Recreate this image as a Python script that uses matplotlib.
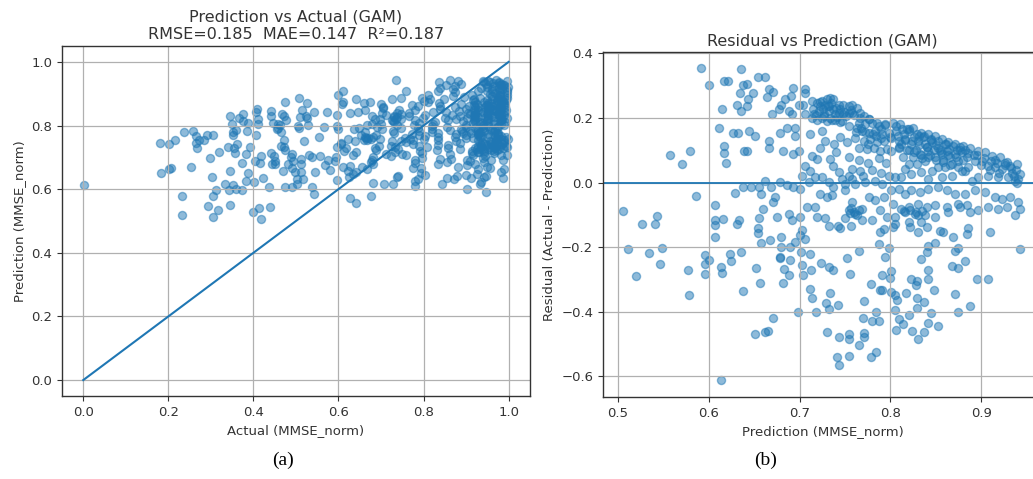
import numpy as np
import matplotlib
matplotlib.use("Agg")
import matplotlib.pyplot as plt

# GAM predictions (MMSE_norm) and residuals (actual - prediction)
prediction = [
    # sparse, upper left
    0.592, 0.600, 0.635, 0.617, 0.621, 0.638, 0.634, 0.631, 0.635, 0.615,
    0.611, 0.627, 0.632, 0.617, 0.617, 0.619, 0.639, 0.557, 0.579, 0.571,
    # sparse, lower left
    0.586, 0.629, 0.638, 0.607, 0.506, 0.543, 0.541, 0.527, 0.607, 0.616,
    0.633, 0.607, 0.511, 0.534, 0.549, 0.546, 0.520, 0.577, 0.578, 0.596,
    0.600, 0.596, 0.596, 0.614, 0.615, 0.623, 0.625, 0.636, 0.638, 0.614,
    0.631, 0.607,
    # 0.64-0.71, upper
    0.654, 0.662, 0.642, 0.666, 0.671, 0.664, 0.649, 0.643, 0.642, 0.693,
    0.706, 0.706, 0.691, 0.684, 0.680, 0.677, 0.670, 0.688, 0.692, 0.699,
    0.704, 0.706,
    # dense band 0.71-0.78
    0.714, 0.719, 0.725, 0.730, 0.734, 0.737, 0.743, 0.748, 0.754, 0.758,
    0.763, 0.715, 0.721, 0.726, 0.732, 0.737, 0.743, 0.748, 0.754, 0.714,
    0.719, 0.725, 0.730, 0.734, 0.739, 0.747, 0.728, 0.732, 0.739, 0.722,
    0.727, 0.745, 0.751, 0.716, 0.735, 0.741, 0.757, 0.760, 0.767, 0.771,
    0.776, 0.722, 0.731, 0.740, 0.749, 0.758, 0.767, 0.776, 0.785, 0.794,
    0.718, 0.727, 0.736, 0.745, 0.754, 0.763, 0.772, 0.781, 0.790,
    # dense band 0.76-0.80
    0.765, 0.772, 0.780, 0.787, 0.794, 0.769, 0.776, 0.783, 0.791, 0.798,
    0.761, 0.771, 0.778, 0.785, 0.793, 0.765, 0.774, 0.782, 0.789, 0.796,
    0.768, 0.790, 0.775, 0.800, 0.784, 0.762,
    # middle, near zero
    0.728, 0.723, 0.714, 0.719, 0.734, 0.737, 0.706, 0.712, 0.703, 0.717,
    0.725, 0.710, 0.732, 0.747, 0.754, 0.758, 0.767, 0.743, 0.750, 0.761,
    0.772, 0.783, 0.791, 0.798, 0.644, 0.651, 0.642, 0.666, 0.666, 0.682,
    0.693, 0.699, 0.695, 0.695, 0.686, 0.679, 0.712, 0.725, 0.738, 0.745,
    0.752, 0.740, 0.755, 0.765, 0.775, 0.780, 0.790, 0.758, 0.770, 0.795,
    0.787,
    # 0.64-0.80, just below zero
    0.647, 0.655, 0.662, 0.669, 0.679, 0.686, 0.693, 0.701, 0.657, 0.673,
    0.671, 0.660, 0.655, 0.675, 0.688, 0.692, 0.701, 0.708, 0.717, 0.723,
    0.730, 0.736, 0.737, 0.750, 0.758, 0.754, 0.761, 0.769, 0.776, 0.783,
    0.789, 0.793, 0.796, 0.780, 0.769, 0.750, 0.728, 0.719, 0.757, 0.760,
    0.763, 0.756, 0.765,
    # upper edge 0.80-0.95
    0.803, 0.811, 0.818, 0.825, 0.834, 0.842, 0.849, 0.857, 0.864, 0.871,
    0.880, 0.888, 0.897, 0.904, 0.912, 0.921, 0.928, 0.939, 0.943, 0.941,
    # dense core 0.80-0.94
    0.801, 0.809, 0.816, 0.801, 0.809, 0.814, 0.823, 0.831, 0.838, 0.846,
    0.853, 0.842, 0.833, 0.825, 0.820, 0.829, 0.838, 0.849, 0.857, 0.862,
    0.871, 0.879, 0.884, 0.875, 0.868, 0.860, 0.853, 0.846, 0.834, 0.823,
    0.812, 0.805, 0.816, 0.842, 0.857, 0.868, 0.879, 0.886, 0.893, 0.901,
    0.908, 0.915, 0.923, 0.930, 0.937, 0.919, 0.908, 0.897, 0.890, 0.836,
    0.840, 0.845, 0.850, 0.855, 0.860, 0.865, 0.828, 0.832, 0.858, 0.866,
    0.873, 0.877, 0.882, 0.886, 0.892, 0.835, 0.844, 0.820, 0.812, 0.806,
    0.815, 0.826, 0.820, 0.938, 0.934, 0.940, 0.932, 0.926, 0.915,
    0.806, 0.813, 0.821, 0.829, 0.837, 0.845, 0.853, 0.861, 0.869, 0.877,
    0.808, 0.816, 0.824, 0.832, 0.840, 0.848, 0.856, 0.864, 0.872, 0.880,
    0.810, 0.818, 0.826, 0.834, 0.842, 0.850, 0.858, 0.866, 0.874, 0.882,
    0.895, 0.903, 0.911, 0.918, 0.926, 0.933, 0.900, 0.910, 0.920, 0.936,
    # 0.80-0.95, below zero
    0.801, 0.809, 0.816, 0.823, 0.833, 0.842, 0.853, 0.862, 0.871, 0.882,
    0.893, 0.904, 0.915, 0.923, 0.932, 0.941, 0.803, 0.812, 0.821, 0.830,
    0.840, 0.849, 0.862, 0.875, 0.884, 0.897, 0.908, 0.919, 0.928, 0.937,
    0.943, 0.805, 0.816, 0.827, 0.838, 0.849, 0.864, 0.877, 0.888, 0.805,
    0.820, 0.834, 0.815, 0.822, 0.828, 0.835, 0.831,
    # 0.65-0.80, lower
    0.654, 0.654, 0.668, 0.658, 0.680, 0.680, 0.679, 0.678, 0.690, 0.695,
    0.701, 0.703, 0.706, 0.702, 0.712, 0.690, 0.652, 0.656, 0.683, 0.688,
    0.682, 0.703, 0.704, 0.713, 0.724, 0.732, 0.737, 0.711, 0.714, 0.734,
    0.729, 0.732, 0.742, 0.718, 0.698, 0.752, 0.765, 0.756, 0.779, 0.791,
    0.771, 0.671, 0.662, 0.665, 0.651, 0.730, 0.744, 0.754, 0.754, 0.771,
    0.771, 0.766, 0.770, 0.784, 0.780, 0.787, 0.741, 0.744, 0.754, 0.779,
    0.784, 0.789, 0.791, 0.794, 0.788, 0.793, 0.789, 0.745, 0.742, 0.732,
    0.757,
    # 0.80-0.95, lower
    0.803, 0.831, 0.822, 0.840, 0.855, 0.858, 0.869, 0.884, 0.886, 0.910,
    0.841, 0.849, 0.840, 0.834, 0.798, 0.875, 0.871, 0.943, 0.882, 0.801,
    0.800, 0.823, 0.829, 0.828, 0.842, 0.842, 0.868, 0.875, 0.895, 0.908,
    0.801, 0.805, 0.807, 0.817, 0.829, 0.829, 0.837, 0.848, 0.871, 0.845,
    0.874, 0.888, 0.805, 0.809, 0.814, 0.820, 0.806, 0.824, 0.837, 0.841,
    0.853, 0.830,
]

residual = [
    # sparse, upper left
    0.355, 0.302, 0.352, 0.315, 0.313, 0.303, 0.277, 0.241, 0.221, 0.229,
    0.168, 0.154, 0.154, 0.112, 0.090, 0.061, 0.098, 0.084, 0.097, 0.057,
    # sparse, lower left
    -0.043, -0.033, -0.014, -0.070, -0.089, -0.104, -0.127, -0.127, -0.117, -0.114,
    -0.117, -0.170, -0.206, -0.217, -0.203, -0.253, -0.289, -0.272, -0.347, -0.224,
    -0.241, -0.253, -0.284, -0.262, -0.281, -0.222, -0.242, -0.214, -0.336, -0.612,
    -0.128, -0.132,
    # 0.64-0.71, upper
    0.328, 0.328, 0.305, 0.289, 0.279, 0.264, 0.277, 0.257, 0.236, 0.294,
    0.290, 0.277, 0.267, 0.257, 0.241, 0.226, 0.211, 0.221, 0.211, 0.241,
    0.241, 0.211,
    # dense band 0.71-0.78
    0.252, 0.246, 0.252, 0.257, 0.262, 0.257, 0.241, 0.241, 0.236, 0.241,
    0.231, 0.226, 0.221, 0.226, 0.221, 0.226, 0.216, 0.211, 0.216, 0.200,
    0.195, 0.200, 0.190, 0.200, 0.195, 0.190, 0.241, 0.236, 0.211, 0.236,
    0.212, 0.226, 0.205, 0.212, 0.245, 0.203, 0.225, 0.210, 0.215, 0.205,
    0.198, 0.250, 0.238, 0.232, 0.219, 0.214, 0.201, 0.196, 0.183, 0.178,
    0.210, 0.205, 0.192, 0.187, 0.174, 0.169, 0.156, 0.151, 0.138,
    # dense band 0.76-0.80
    0.185, 0.180, 0.185, 0.175, 0.180, 0.160, 0.154, 0.160, 0.149, 0.154,
    0.139, 0.129, 0.134, 0.124, 0.129, 0.108, 0.103, 0.108, 0.098, 0.103,
    0.170, 0.165, 0.118, 0.140, 0.145, 0.155,
    # middle, near zero
    0.129, 0.108, 0.083, 0.073, 0.073, 0.052, 0.052, 0.037, 0.021, 0.016,
    0.016, 0.001, 0.001, 0.011, 0.021, 0.042, 0.037, 0.032, -0.004, -0.004,
    0.001, 0.006, -0.004, 0.021, 0.160, 0.144, 0.098, 0.129, 0.108, 0.098,
    0.088, 0.098, 0.144, 0.170, 0.170, 0.154, 0.150, 0.160, 0.120, 0.140,
    0.125, 0.095, 0.080, 0.070, 0.060, 0.040, 0.030, 0.010, 0.020, 0.060,
    0.075,
    # 0.64-0.80, just below zero
    -0.014, -0.014, 0.006, -0.014, 0.001, -0.009, -0.014, -0.019, -0.035, -0.045,
    -0.060, -0.081, -0.111, -0.106, -0.096, -0.117, -0.106, -0.075, -0.075, -0.035,
    -0.045, -0.040, -0.014, -0.024, -0.060, -0.086, -0.096, -0.081, -0.045, -0.055,
    -0.086, -0.045, -0.106, -0.117, -0.117, -0.111, -0.111, -0.106, -0.080, -0.090,
    -0.100, -0.095, -0.085,
    # upper edge 0.80-0.95
    0.185, 0.180, 0.165, 0.170, 0.154, 0.149, 0.144, 0.134, 0.124, 0.119,
    0.114, 0.108, 0.098, 0.093, 0.083, 0.078, 0.062, 0.057, 0.027, 0.011,
    # dense core 0.80-0.94
    0.139, 0.129, 0.134, 0.098, 0.108, 0.078, 0.119, 0.129, 0.119, 0.124,
    0.108, 0.098, 0.088, 0.078, 0.057, 0.057, 0.067, 0.078, 0.088, 0.098,
    0.088, 0.093, 0.078, 0.067, 0.057, 0.047, 0.047, 0.037, 0.032, 0.027,
    0.016, 0.016, 0.042, 0.011, 0.016, 0.021, 0.037, 0.047, 0.067, 0.067,
    0.052, 0.047, 0.042, 0.016, 0.006, 0.016, 0.021, 0.016, 0.006, 0.140,
    0.110, 0.132, 0.115, 0.100, 0.120, 0.105, 0.100, 0.145, 0.070, 0.080,
    0.100, 0.110, 0.100, 0.090, 0.085, 0.075, 0.085, 0.100, 0.120, 0.160,
    0.150, 0.140, 0.165, 0.040, 0.030, 0.000, 0.050, 0.060, 0.070,
    0.175, 0.166, 0.160, 0.150, 0.144, 0.134, 0.128, 0.118, 0.112, 0.102,
    0.143, 0.133, 0.127, 0.117, 0.111, 0.101, 0.095, 0.085, 0.079, 0.069,
    0.111, 0.101, 0.095, 0.085, 0.079, 0.069, 0.063, 0.053, 0.047, 0.037,
    0.085, 0.076, 0.068, 0.060, 0.053, 0.045, 0.055, 0.040, 0.030, 0.020,
    # 0.80-0.95, below zero
    -0.024, -0.019, -0.035, -0.024, -0.030, -0.019, -0.014, -0.024, -0.035, -0.035,
    -0.024, -0.030, -0.045, -0.050, -0.045, -0.060, -0.065, -0.081, -0.075, -0.065,
    -0.075, -0.070, -0.075, -0.065, -0.070, -0.086, -0.075, -0.081, -0.075, -0.101,
    -0.081, -0.106, -0.091, -0.096, -0.101, -0.106, -0.091, -0.075, -0.091, -0.127,
    -0.122, -0.122, -0.088, -0.086, -0.090, -0.088, -0.100,
    # 0.65-0.80, lower
    -0.142, -0.157, -0.178, -0.188, -0.167, -0.198, -0.229, -0.234, -0.198, -0.183,
    -0.163, -0.147, -0.176, -0.214, -0.222, -0.239, -0.265, -0.312, -0.268, -0.285,
    -0.310, -0.255, -0.285, -0.272, -0.250, -0.260, -0.272, -0.328, -0.357, -0.343,
    -0.374, -0.392, -0.380, -0.400, -0.400, -0.234, -0.212, -0.283, -0.313, -0.285,
    -0.365, -0.418, -0.461, -0.459, -0.469, -0.462, -0.478, -0.469, -0.483, -0.466,
    -0.479, -0.502, -0.418, -0.400, -0.428, -0.428, -0.539, -0.563, -0.538, -0.541,
    -0.525, -0.334, -0.334, -0.229, -0.190, -0.144, -0.152, -0.140, -0.135, -0.135,
    -0.135,
    # 0.80-0.95, lower
    -0.137, -0.152, -0.137, -0.137, -0.150, -0.154, -0.168, -0.158, -0.140, -0.152,
    -0.195, -0.186, -0.214, -0.237, -0.201, -0.201, -0.212, -0.207, -0.242, -0.273,
    -0.295, -0.297, -0.306, -0.318, -0.270, -0.299, -0.259, -0.265, -0.297, -0.297,
    -0.339, -0.347, -0.362, -0.341, -0.357, -0.388, -0.370, -0.334, -0.344, -0.403,
    -0.400, -0.382, -0.395, -0.421, -0.439, -0.410, -0.456, -0.459, -0.461, -0.436,
    -0.444, -0.485,
]

title_a = "Prediction vs Actual (GAM)\nRMSE=0.185  MAE=0.147  R\u00b2=0.187"
title_b = "Residual vs Prediction (GAM)"

pred = np.array(prediction)
resid = np.array(residual)
actual = np.minimum(pred + resid, 1.0)  # MMSE_norm tops out at 1

fig = plt.figure(figsize=(10.33, 4.79), dpi=100)
ax1 = fig.add_axes([0.060, 0.1733, 0.453, 0.7307])
ax2 = fig.add_axes([0.5837, 0.1712, 0.425, 0.720])

tick_kw = dict(labelsize=9.5, colors="#333333")

# (a) prediction vs actual
ax1.scatter(actual, pred, s=34, alpha=0.5, color="#1f77b4")
ax1.plot([0, 1], [0, 1], color="#1f77b4", lw=1.5)
ax1.set_xlim(-0.05, 1.05)
ax1.set_ylim(-0.05, 1.05)
ax1.grid(True, color="#b0b0b0", lw=0.9)
ax1.set_title(title_a, fontsize=11.5, color="#333333", pad=5)
ax1.set_xlabel("Actual (MMSE_norm)", fontsize=9.5, color="#333333")
ax1.set_ylabel("Prediction (MMSE_norm)", fontsize=9.5, color="#333333")
ax1.tick_params(**tick_kw)

# (b) residual vs prediction
ax2.scatter(pred, resid, s=34, alpha=0.5, color="#1f77b4")
ax2.axhline(0, color="#1f77b4", lw=1.3)
ax2.set_xlim(0.4835, 0.967)
ax2.set_ylim(-0.6635, 0.4035)
ax2.set_xticks([0.5, 0.6, 0.7, 0.8, 0.9])
ax2.grid(True, color="#b0b0b0", lw=0.9)
ax2.set_title(title_b, fontsize=11.5, color="#333333", pad=5)
ax2.set_xlabel("Prediction (MMSE_norm)", fontsize=9.5, color="#333333")
ax2.set_ylabel("Residual (Actual - Prediction)", fontsize=9.5, color="#333333")
ax2.tick_params(**tick_kw)

for ax in (ax1, ax2):
    for sp in ax.spines.values():
        sp.set_color("#333333")
        sp.set_linewidth(1.0)

fig.text(0.274, 0.03, "(a)", fontsize=14, family="Liberation Serif", ha="center")
fig.text(0.741, 0.03, "(b)", fontsize=14, family="Liberation Serif", ha="center")

fig.savefig("out.png", dpi=100)
